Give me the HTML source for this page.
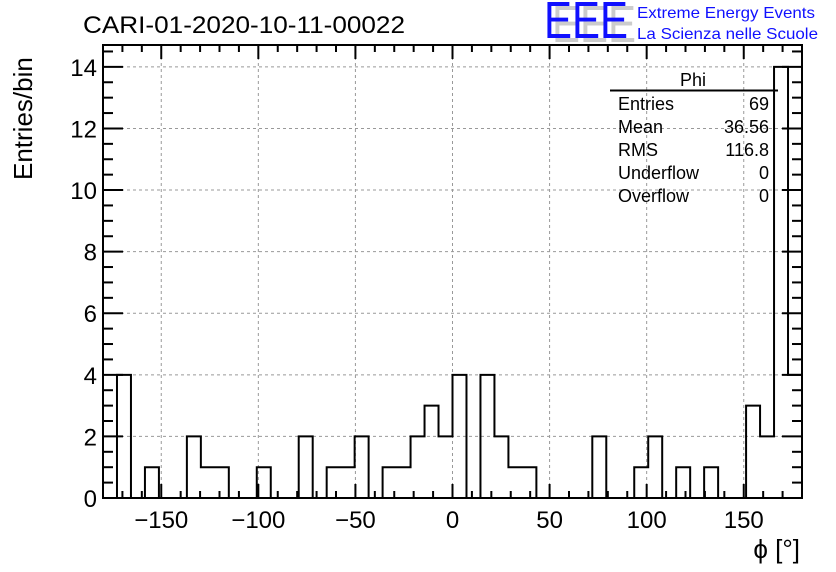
<!DOCTYPE html>
<html><head><meta charset="utf-8"><style>
body{margin:0;background:#fff;}
svg{display:block;font-family:"Liberation Sans",sans-serif;}
</style></head><body>
<svg id="c" width="836" height="572">
<rect width="836" height="572" fill="#fff"/>
<text x="83" y="33" font-size="24" textLength="322" lengthAdjust="spacingAndGlyphs">CARI-01-2020-10-11-00022</text>
<g>
<text x="552" y="42" font-size="52" fill="#ccc" textLength="84" lengthAdjust="spacingAndGlyphs">EEE</text>
<text x="544" y="38" font-size="52" fill="#1010ff" textLength="84" lengthAdjust="spacingAndGlyphs">EEE</text>
<text x="637" y="18" font-size="16" fill="#1010ff" textLength="178" lengthAdjust="spacingAndGlyphs">Extreme Energy Events</text>
<text x="637" y="39" font-size="16" fill="#1010ff" textLength="181" lengthAdjust="spacingAndGlyphs">La Scienza nelle Scuole</text>
</g>
<g id="grid"></g>
<g id="bars"></g>
<g id="axes"></g>
<text x="32" y="180" font-size="26" transform="rotate(-90 32 180)">Entries/bin</text>
<text x="800" y="558" font-size="26" text-anchor="end">ϕ [°]</text>
<g font-size="18">
<text x="693" y="86" text-anchor="middle">Phi</text>
<line x1="610" y1="90.5" x2="778" y2="90.5" stroke="#000" stroke-width="2"/>
<text x="618" y="110">Entries</text><text x="769" y="110" text-anchor="end">69</text>
<text x="618" y="133">Mean</text><text x="769" y="133" text-anchor="end">36.56</text>
<text x="618" y="156">RMS</text><text x="769" y="156" text-anchor="end">116.8</text>
<text x="618" y="179">Underflow</text><text x="769" y="179" text-anchor="end">0</text>
<text x="618" y="202">Overflow</text><text x="769" y="202" text-anchor="end">0</text>
</g>
</svg>
<script>
const binStart = -180;
const binWidth = 7.2;
const counts = [0,4,0,1,0,0,2,1,1,0,0,1,0,0,2,0,1,1,2,0,1,1,2,3,2,
                4,0,4,2,1,1,0,0,0,0,2,0,0,1,2,0,1,0,1,0,0,3,2,14,4];
const xTicks = [-150,-100,-50,0,50,100,150];
const yTicks = [0,2,4,6,8,10,12,14];
const L=103,R=802,T=45,B=498;
const xmin=-180,xmax=180,ymin=0,ymax=14.71;
const X=v=>L+(v-xmin)/(xmax-xmin)*(R-L);
const Y=v=>B-(v-ymin)/(ymax-ymin)*(B-T);
const NS='http://www.w3.org/2000/svg';
function mk(tag,attrs,parent){const e=document.createElementNS(NS,tag);for(const k in attrs)e.setAttribute(k,attrs[k]);parent.appendChild(e);return e;}
const grid=document.getElementById('grid'),bars=document.getElementById('bars'),axes=document.getElementById('axes');
xTicks.forEach(t=>{const g=mk('line',{x1:X(t),x2:X(t),y1:T,y2:B,stroke:'#999','stroke-dasharray':'3,3'},grid);

});
yTicks.forEach(t=>{if(t===0)return;const g=mk('line',{x1:L,x2:R,y1:Y(t),y2:Y(t),stroke:'#999','stroke-dasharray':'3,3'},grid);

});
let d='M'+X(binStart)+','+Y(0);
counts.forEach((c,i)=>{const x0=X(binStart+i*binWidth),x1=X(binStart+(i+1)*binWidth);d+=' L'+x0+','+Y(c)+' L'+x1+','+Y(c);});
d+=' L'+X(binStart+counts.length*binWidth)+','+Y(0);
const p=mk('path',{d:d,fill:'none',stroke:'#000','stroke-width':2},bars);


counts.forEach((c,i)=>{const r=mk('rect',{x:X(binStart+i*binWidth),y:Y(c),width:X(binWidth)-X(0),height:Y(0)-Y(c),fill:'transparent'},bars);

});
const f=mk('rect',{x:L,y:T,width:R-L,height:B-T,fill:'none',stroke:'#000','stroke-width':2},axes);


for(let v=-180;v<=180;v+=10){const len=v%50===0?14:7;
mk('line',{x1:X(v),x2:X(v),y1:B,y2:B-len,stroke:'#000','stroke-width':2},axes);
mk('line',{x1:X(v),x2:X(v),y1:T,y2:T+len,stroke:'#000','stroke-width':2},axes);}
for(let v=0;v<=14.71;v+=0.5){const len=Math.abs(v%2)<1e-9?20:10;
mk('line',{x1:L,x2:L+len,y1:Y(v),y2:Y(v),stroke:'#000','stroke-width':2},axes);
mk('line',{x1:R,x2:R-len,y1:Y(v),y2:Y(v),stroke:'#000','stroke-width':2},axes);}
xTicks.forEach(t=>{const tx=mk('text',{x:X(t),y:528,'font-size':24,'text-anchor':'middle'},axes);tx.textContent=t<0?'\u2212'+(-t):t;

});
yTicks.forEach(t=>{const tx=mk('text',{x:97,y:Y(t)+9,'font-size':24,'text-anchor':'end'},axes);tx.textContent=t;

});
</script>
</body></html>
